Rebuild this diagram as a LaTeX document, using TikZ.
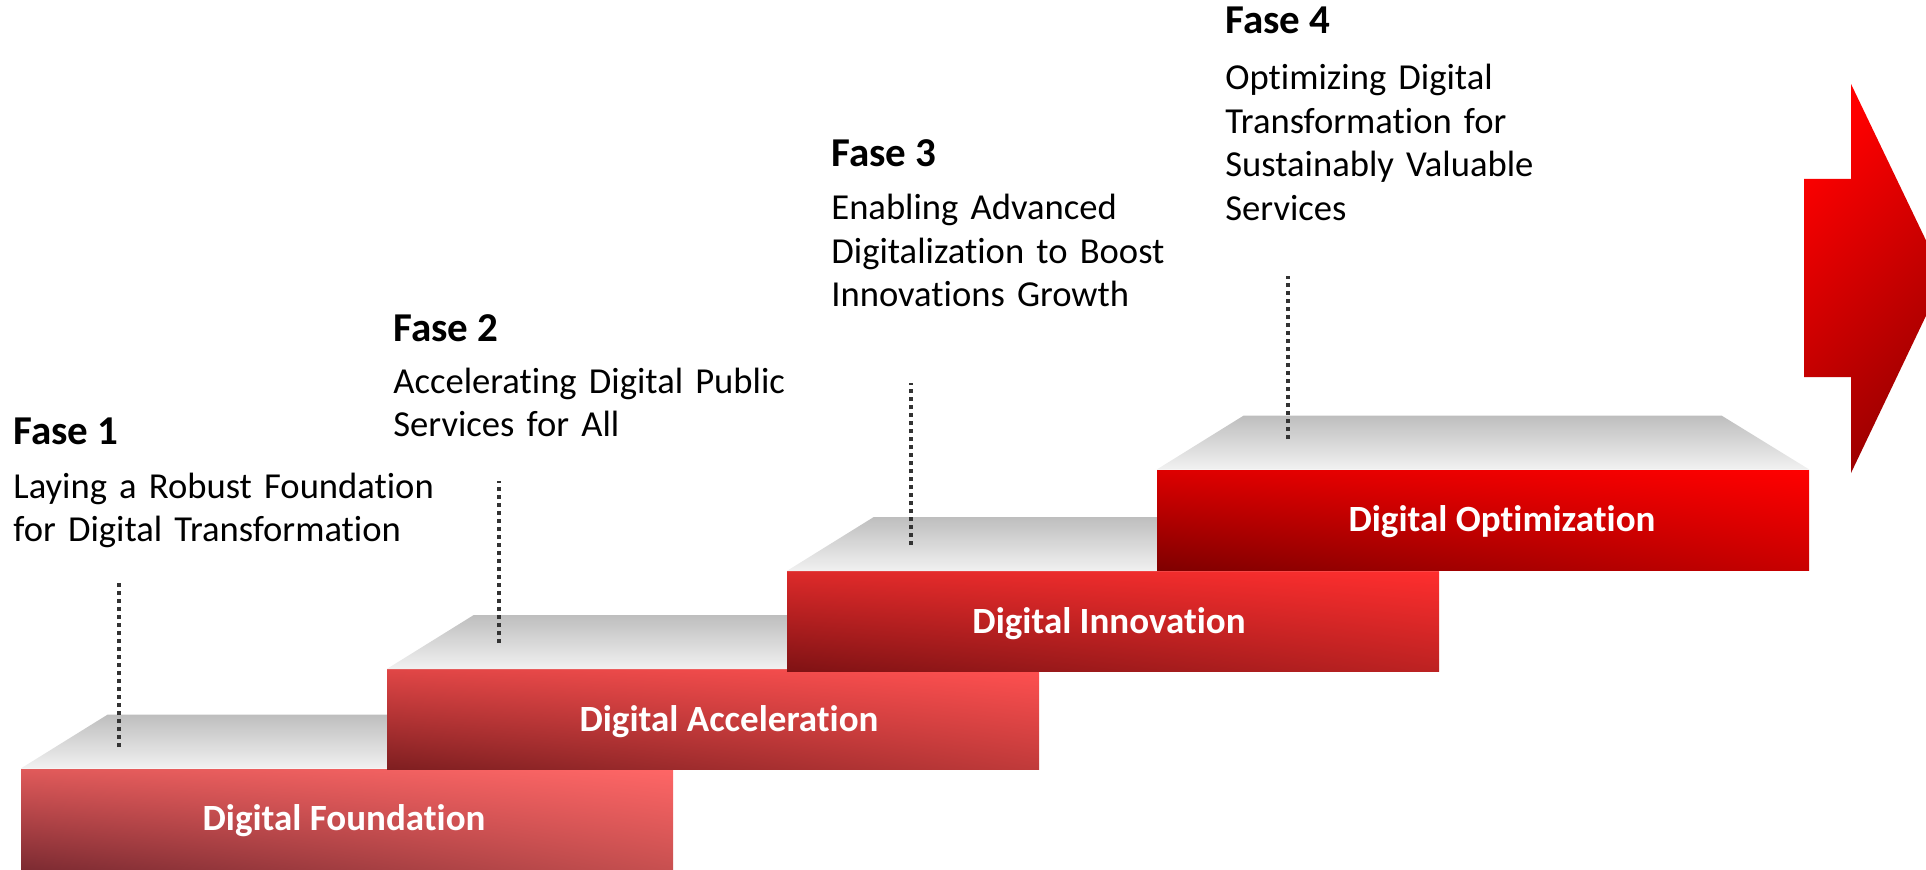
\documentclass[tikz,border=0pt]{standalone}
\usepackage{fontspec}
\setmainfont[Ligatures=CommonOff]{Carlito}
\usepackage{tikz}
\usetikzlibrary{shadings}

\definecolor{redul1}{HTML}{E05A5A}
\definecolor{redur1}{HTML}{FF6666}
\definecolor{redll1}{HTML}{7D2B32}
\definecolor{redlr1}{HTML}{C85050}
\definecolor{redul2}{HTML}{E04646}
\definecolor{redur2}{HTML}{FF5050}
\definecolor{redll2}{HTML}{7E1E20}
\definecolor{redlr2}{HTML}{C03A3A}
\definecolor{redul3}{HTML}{DD2A2A}
\definecolor{redur3}{HTML}{FF2E2E}
\definecolor{redll3}{HTML}{7F1214}
\definecolor{redlr3}{HTML}{BC2222}
\definecolor{redul4}{HTML}{DD0000}
\definecolor{redur4}{HTML}{FF0000}
\definecolor{redll4}{HTML}{7F0000}
\definecolor{redlr4}{HTML}{C80000}
\definecolor{arrowlight}{HTML}{FF0000}
\definecolor{arrowdark}{HTML}{9A0000}
\definecolor{platetop}{HTML}{BEBEBE}
\definecolor{platemid}{HTML}{EBEBEB}
\definecolor{platefront}{HTML}{F1F1F1}
\definecolor{leadergray}{HTML}{333333}

\begin{document}
\begin{tikzpicture}[x=0.5pt, y=0.5pt,
    stepbox/.style={minimum width=326pt, minimum height=50pt, inner sep=0pt},
    steplabel/.style={inner sep=0pt, text=white, font=\bfseries\fontsize{18.5}{22}\selectfont,
      text height=11.9pt, text depth=0pt},
    plate/.style={top color=platetop, middle color=platemid, bottom color=platefront},
    leader/.style={leadergray, line width=1.8pt, dash pattern=on 1.8pt off 2.2pt},
    fasehead/.style={anchor=base west, inner sep=0pt, font=\bfseries\fontsize{20.5}{24}\selectfont},
    fasetext/.style={anchor=base west, inner sep=0pt, text width=300pt, align=left,
      font=\fontsize{18.3}{21.75}\selectfont}]
      \useasboundingbox (0,0) rectangle (1926,869);

      % step 1
      \node[stepbox, upper left=redul1, upper right=redur1, lower left=redll1, lower right=redlr1] (box1) at (347,50) {};
      \node[steplabel] (label1) at (344,50) {Digital Foundation};
      \shade[plate] (box1.north west) -- ++(87,54) -- ++(478,0) -- (box1.north east) -- cycle;
      \coordinate (foot1) at (119,122);
      \draw[leader] (foot1) -- ++(0,164);
      \node[fasehead] (fase1) at (13,425) {Fase 1};
      \node[fasetext] (desc1) at (13,371) {Laying a Robust Foundation\\for Digital Transformation};

      % step 2
      \node[stepbox, upper left=redul2, upper right=redur2, lower left=redll2, lower right=redlr2] (box2) at (713,149.5) {};
      \node[steplabel] (label2) at (729,149.5) {Digital Acceleration};
      \shade[plate] (box2.north west) -- ++(87,54) -- ++(478,0) -- (box2.north east) -- cycle;
      \coordinate (foot2) at (499,226);
      \draw[leader] (foot2) -- ++(0,162);
      \node[fasehead] (fase2) at (393,528) {Fase 2};
      \node[fasetext] (desc2) at (393,476) {Accelerating Digital Public\\Services for All};

      % step 3
      \node[stepbox, upper left=redul3, upper right=redur3, lower left=redll3, lower right=redlr3] (box3) at (1113,247.5) {};
      \node[steplabel] (label3) at (1109,247.5) {Digital Innovation};
      \shade[plate] (box3.north west) -- ++(87,54) -- ++(478,0) -- (box3.north east) -- cycle;
      \coordinate (foot3) at (911,324);
      \draw[leader] (foot3) -- ++(0,162);
      \node[fasehead] (fase3) at (831,702) {Fase 3};
      \node[fasetext] (desc3) at (831,649) {Enabling Advanced\\Digitalization to Boost\\Innovations Growth};

      % step 4
      \node[stepbox, upper left=redul4, upper right=redur4, lower left=redll4, lower right=redlr4] (box4) at (1483,349) {};
      \node[steplabel] (label4) at (1502,349) {Digital Optimization};
      \shade[plate] (box4.north west) -- ++(87,54) -- ++(478,0) -- (box4.north east) -- cycle;
      \coordinate (foot4) at (1288,430);
      \draw[leader] (foot4) -- ++(0,163);
      \node[fasehead] (fase4) at (1225,835) {Fase 4};
      \node[fasetext] (desc4) at (1225,779) {Optimizing Digital\\Transformation for\\Sustainably Valuable\\Services};

      % arrow
      \shade[top color=arrowlight, bottom color=arrowdark, shading angle=45]
        (1804,690) -- (1851,690) -- (1851,785) -- (1944,591) -- (1851,396) -- (1851,492) -- (1804,492) -- cycle;
    \end{tikzpicture}
\end{document}
